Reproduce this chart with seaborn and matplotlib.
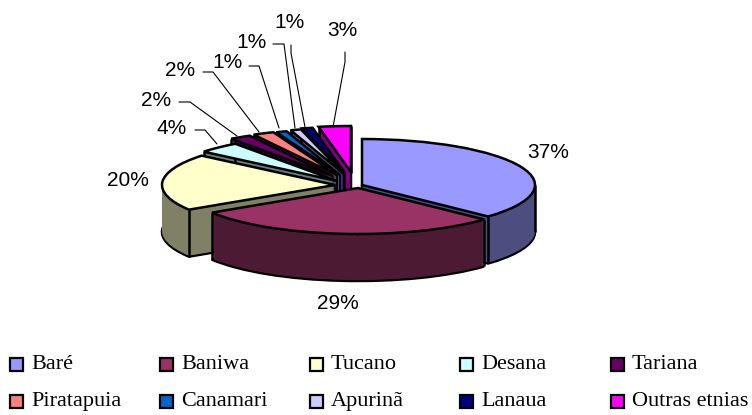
import numpy as np
import seaborn as sns
import matplotlib.pyplot as plt
from matplotlib.patches import Rectangle
from matplotlib.lines import Line2D

# dados
etnias = ["Baré", "Baniwa", "Tucano", "Desana", "Tariana",
          "Piratapuia", "Canamari", "Apurinã", "Lanaua", "Outras etnias"]
percentuais = [37, 29, 20, 4, 2, 2, 1, 1, 1, 3]
cores = ["#9999ff", "#993366", "#ffffcc", "#ccffff", "#660066",
         "#ff8080", "#0066cc", "#ccccff", "#000080", "#ff00ff"]
cores_lado = ["#4d4d80", "#4d1a33", "#808066", "#668080", "#330033",
              "#804040", "#003366", "#666680", "#000040", "#800080"]

# layout em pixels da imagem
W, H = 752, 415
RX, RY, PROF = 173, 46, 47
vertice_x = [362, 358, 335, 337, 333, 337, 340, 344, 345, 351]
vertice_y = [185, 188, 185, 181, 176, 175, 175, 174, 173, 172]
ordem_z = [8, 9, 7, 6, 5, 4, 3, 2, 1, 0]
rotulos_xy = [(548, 152), (338, 303), (128, 180), (172, 128), (156, 100),
              (180, 70), (227, 63), (252, 42), (289, 23), (342, 31)]
guias = [None, None, None,
         [(195, 130), (205, 130), (217, 144)],
         [(179, 102), (190, 102), (237, 136)],
         [(203, 72), (213, 72), (259, 132)],
         [(249, 66), (259, 66), (279, 128)],
         [(273, 44), (284, 44), (295, 128)],
         [(291, 45), (291, 53), (305, 127)],
         [(345, 52), (345, 62), (333, 127)]]
col_x = [10, 160, 310, 460, 611]
lin_y = [364, 401]

sns.set_theme(style="white")
plt.rcParams["font.family"] = ["Liberation Sans", "DejaVu Sans"]

K = RX / RY


def yd(py):
    return (H - py) * K


fig = plt.figure(figsize=(W / 100, H / 100), dpi=100)
ax = fig.add_axes([0, 0, 1, 1])


def camada(paleta, desc, borda, lw, dz):
    fatias, _ = ax.pie(percentuais, colors=paleta, radius=RX, startangle=90,
                       counterclock=False, labeldistance=None,
                       wedgeprops=dict(edgecolor=borda, linewidth=lw))
    for i, f in enumerate(fatias):
        f.set_center((vertice_x[i], yd(vertice_y[i] + desc)))
        f.set_zorder(ordem_z[i] * 10 + dz)
    return fatias


# lateral: fatias empilhadas, da base ate o topo
camada(cores_lado, PROF, "black", 1.8, 1)
for d in range(PROF - 1, 0, -1):
    camada(cores_lado, d, "none", 0, 2)
topo = camada(cores, 0, "black", 1.8, 5)

# arestas verticais da lateral
for i, f in enumerate(topo):
    angs = [f.theta1, f.theta2]
    for a in (0, 180):
        if f.theta1 <= a <= f.theta2 or f.theta1 <= a + 360 <= f.theta2:
            angs.append(a)
    for a in angs:
        x = vertice_x[i] + RX * np.cos(np.radians(a))
        y = vertice_y[i] - RY * np.sin(np.radians(a))
        ax.plot([x, x], [yd(y), yd(y + PROF)], color="black", lw=1.8,
                zorder=ordem_z[i] * 10 + 3, solid_capstyle="butt")
    ax.plot([vertice_x[i]] * 2, [yd(vertice_y[i]), yd(vertice_y[i] + PROF)],
            color="black", lw=1.2, zorder=ordem_z[i] * 10 + 3)

ax.set_aspect("auto")
ax.set_xlim(0, W)
ax.set_ylim(0, H * K)
ax.axis("off")

# rotulos e linhas guia
for p, (x, y), g in zip(percentuais, rotulos_xy, guias):
    fig.text(x / W, 1 - y / H, f"{p}%", fontsize=15, ha="center", va="center",
             color="black")
    if g:
        xs = [q[0] / W for q in g]
        ys = [1 - q[1] / H for q in g]
        fig.add_artist(Line2D(xs, ys, color="black", lw=0.8, zorder=200))

# legenda
for i, nome in enumerate(etnias):
    cx = col_x[i % 5]
    cy = lin_y[i // 5]
    fig.add_artist(Rectangle((cx / W, 1 - (cy + 7) / H), 13 / W, 13 / H,
                             transform=fig.transFigure, facecolor=cores[i],
                             edgecolor="black", linewidth=1.6))
    fig.text((cx + 21) / W, 1 - cy / H, nome, fontsize=16, ha="left",
             va="center", family=["Liberation Serif", "DejaVu Serif"],
             color="black")

fig.savefig("out.png", dpi=100)
